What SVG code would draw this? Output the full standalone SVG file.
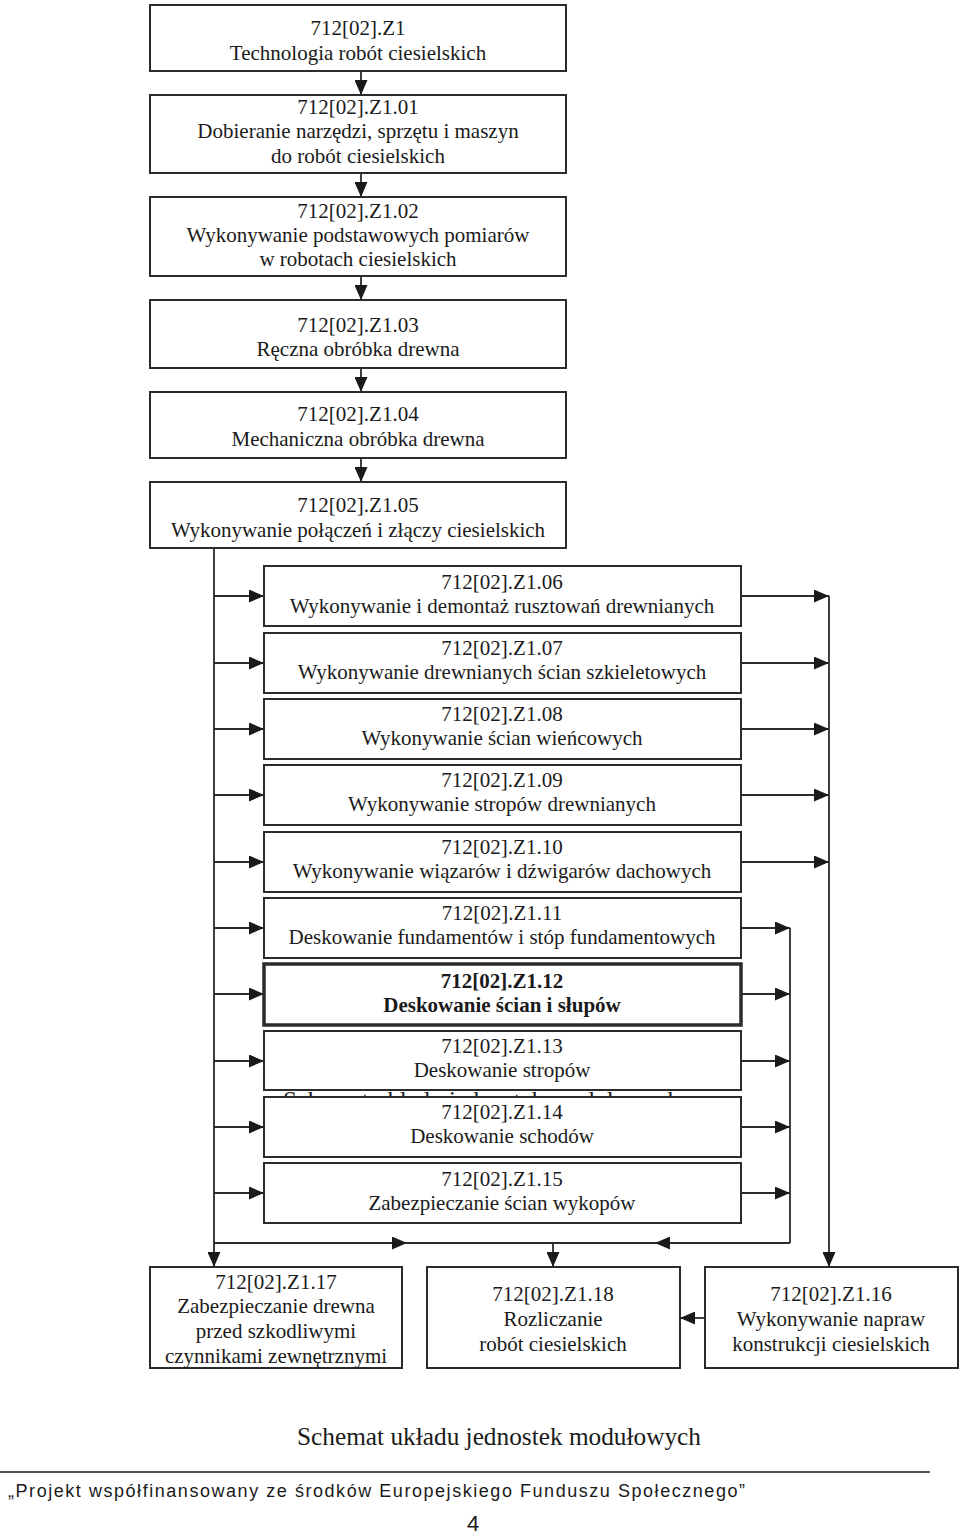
<svg xmlns="http://www.w3.org/2000/svg" width="960" height="1534" viewBox="0 0 960 1534">
<style>
.box{fill:#fff;stroke:#2b2b2b;stroke-width:2}
.bold{stroke-width:3.5}
.t{font-family:"Liberation Serif","Times New Roman",serif;font-size:21px;fill:#1a1a1a;text-anchor:middle}
.b{font-weight:bold}
.c{fill:none;stroke:#2b2b2b;stroke-width:1.8}
.a{marker-end:url(#ah)}
</style>
<defs>
<marker id="ah" markerWidth="15" markerHeight="13" refX="15" refY="6.5" orient="auto" markerUnits="userSpaceOnUse"><path d="M0,0 L15,6.5 L0,13 z" fill="#1a1a1a"/></marker>
</defs>
<rect width="960" height="1534" fill="#fff"/>
<text x="283" y="1109" class="t" style="font-size:25px;text-anchor:start" textLength="397" lengthAdjust="spacingAndGlyphs">Schemat układu jednostek modułowych</text>
<g id="connectors">
<path class="c a" d="M361,71 V95"/>
<path class="c a" d="M361,173 V197"/>
<path class="c a" d="M361,276 V300"/>
<path class="c a" d="M361,368 V392"/>
<path class="c a" d="M361,458 V482"/>
<path class="c a" d="M214,548 V1267"/>
<path class="c a" d="M214,596 H264"/>
<path class="c a" d="M214,663 H264"/>
<path class="c a" d="M214,729 H264"/>
<path class="c a" d="M214,795 H264"/>
<path class="c a" d="M214,862 H264"/>
<path class="c a" d="M214,928 H264"/>
<path class="c a" d="M214,994 H264"/>
<path class="c a" d="M214,1061 H264"/>
<path class="c a" d="M214,1127 H264"/>
<path class="c a" d="M214,1193 H264"/>
<path class="c a" d="M741,596 H829"/>
<path class="c a" d="M741,663 H829"/>
<path class="c a" d="M741,729 H829"/>
<path class="c a" d="M741,795 H829"/>
<path class="c a" d="M741,862 H829"/>
<path class="c a" d="M829,596 V1267"/>
<path class="c a" d="M741,928 H790"/>
<path class="c a" d="M741,994 H790"/>
<path class="c a" d="M741,1061 H790"/>
<path class="c a" d="M741,1127 H790"/>
<path class="c a" d="M741,1193 H790"/>
<path class="c" d="M790,928 V1243"/>
<path class="c a" d="M214,1243 H407"/>
<path class="c" d="M407,1243 H655"/>
<path class="c a" d="M790,1243 H655"/>
<path class="c a" d="M553,1243 V1267"/>
<path class="c a" d="M705,1318 H680"/>
</g>
<g id="z1"><rect class="box" x="150" y="5" width="416" height="66"/><text class="t" x="358" y="35">712[02].Z1</text><text class="t" x="358" y="60">Technologia robót ciesielskich</text></g>
<g id="z1-01"><rect class="box" x="150" y="95" width="416" height="78"/><text class="t" x="358" y="114">712[02].Z1.01</text><text class="t" x="358" y="138">Dobieranie narzędzi, sprzętu i maszyn</text><text class="t" x="358" y="163">do robót ciesielskich</text></g>
<g id="z1-02"><rect class="box" x="150" y="197" width="416" height="79"/><text class="t" x="358" y="218">712[02].Z1.02</text><text class="t" x="358" y="242">Wykonywanie podstawowych pomiarów</text><text class="t" x="358" y="266">w robotach ciesielskich</text></g>
<g id="z1-03"><rect class="box" x="150" y="300" width="416" height="68"/><text class="t" x="358" y="332">712[02].Z1.03</text><text class="t" x="358" y="356">Ręczna obróbka drewna</text></g>
<g id="z1-04"><rect class="box" x="150" y="392" width="416" height="66"/><text class="t" x="358" y="421">712[02].Z1.04</text><text class="t" x="358" y="446">Mechaniczna obróbka drewna</text></g>
<g id="z1-05"><rect class="box" x="150" y="482" width="416" height="66"/><text class="t" x="358" y="512">712[02].Z1.05</text><text class="t" x="358" y="537">Wykonywanie połączeń i złączy ciesielskich</text></g>
<g id="z1-06"><rect class="box" x="264" y="566" width="477" height="60"/><text class="t" x="502" y="589">712[02].Z1.06</text><text class="t" x="502" y="613">Wykonywanie i demontaż rusztowań drewnianych</text></g>
<g id="z1-07"><rect class="box" x="264" y="633" width="477" height="60"/><text class="t" x="502" y="655">712[02].Z1.07</text><text class="t" x="502" y="679">Wykonywanie drewnianych ścian szkieletowych</text></g>
<g id="z1-08"><rect class="box" x="264" y="699" width="477" height="60"/><text class="t" x="502" y="721">712[02].Z1.08</text><text class="t" x="502" y="745">Wykonywanie ścian wieńcowych</text></g>
<g id="z1-09"><rect class="box" x="264" y="765" width="477" height="60"/><text class="t" x="502" y="787">712[02].Z1.09</text><text class="t" x="502" y="811">Wykonywanie stropów drewnianych</text></g>
<g id="z1-10"><rect class="box" x="264" y="832" width="477" height="60"/><text class="t" x="502" y="854">712[02].Z1.10</text><text class="t" x="502" y="878">Wykonywanie wiązarów i dźwigarów dachowych</text></g>
<g id="z1-11"><rect class="box" x="264" y="898" width="477" height="60"/><text class="t" x="502" y="920">712[02].Z1.11</text><text class="t" x="502" y="944">Deskowanie fundamentów i stóp fundamentowych</text></g>
<g id="z1-12"><rect class="box bold" x="264" y="964" width="477" height="61"/><text class="t b" x="502" y="988">712[02].Z1.12</text><text class="t b" x="502" y="1012">Deskowanie ścian i słupów</text></g>
<g id="z1-13"><rect class="box" x="264" y="1031" width="477" height="59"/><text class="t" x="502" y="1053">712[02].Z1.13</text><text class="t" x="502" y="1077">Deskowanie stropów</text></g>
<g id="z1-14"><rect class="box" x="264" y="1097" width="477" height="60"/><text class="t" x="502" y="1119">712[02].Z1.14</text><text class="t" x="502" y="1143">Deskowanie schodów</text></g>
<g id="z1-15"><rect class="box" x="264" y="1163" width="477" height="60"/><text class="t" x="502" y="1186">712[02].Z1.15</text><text class="t" x="502" y="1210">Zabezpieczanie ścian wykopów</text></g>
<g id="z1-17"><rect class="box" x="150" y="1267" width="252" height="101"/><text class="t" x="276" y="1289">712[02].Z1.17</text><text class="t" x="276" y="1313">Zabezpieczanie drewna</text><text class="t" x="276" y="1338">przed szkodliwymi</text><text class="t" x="276" y="1363">czynnikami zewnętrznymi</text></g>
<g id="z1-18"><rect class="box" x="427" y="1267" width="253" height="101"/><text class="t" x="553" y="1301">712[02].Z1.18</text><text class="t" x="553" y="1326">Rozliczanie</text><text class="t" x="553" y="1351">robót ciesielskich</text></g>
<g id="z1-16"><rect class="box" x="705" y="1267" width="253" height="101"/><text class="t" x="831" y="1301">712[02].Z1.16</text><text class="t" x="831" y="1326">Wykonywanie napraw</text><text class="t" x="831" y="1351">konstrukcji ciesielskich</text></g>
<text x="499" y="1445" class="t" style="font-size:25px" textLength="404" lengthAdjust="spacingAndGlyphs">Schemat układu jednostek modułowych</text>
<line x1="0" y1="1472" x2="930" y2="1472" stroke="#555" stroke-width="2"/>
<text x="8" y="1497" style="font-family:'Liberation Sans',Arial,sans-serif;font-size:18px;fill:#1a1a1a" textLength="737" lengthAdjust="spacing">„Projekt współfinansowany ze środków Europejskiego Funduszu Społecznego”</text>
<text x="473" y="1531" style="font-family:'Liberation Sans',Arial,sans-serif;font-size:22px;fill:#1a1a1a;text-anchor:middle">4</text>
</svg>
